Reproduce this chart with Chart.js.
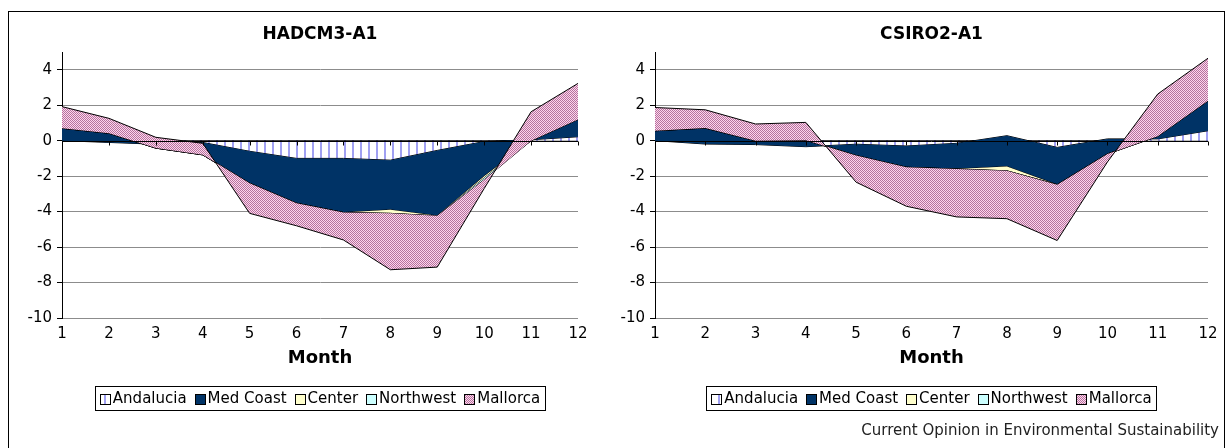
<!DOCTYPE html>
<html><head><meta charset="utf-8">
<script src="https://cdn.jsdelivr.net/npm/chart.js@4.4.1/dist/chart.umd.min.js"></script>
<style>
html,body{margin:0;padding:0;background:#fff;}
body{width:1227px;height:448px;position:relative;overflow:hidden;}
#frame{position:absolute;left:8px;top:11px;width:1217px;height:460px;border:1px solid #000;box-sizing:border-box;}
#c1{position:absolute;left:0;top:0;}
#c2{position:absolute;left:614px;top:0;}
#footer{position:absolute;right:8px;top:421px;font:15px "DejaVu Sans",sans-serif;color:#222;white-space:nowrap;}
</style></head>
<body>
<div id="frame"></div>
<canvas id="c1" width="614" height="448"></canvas>
<canvas id="c2" width="613" height="448"></canvas>
<div id="footer">Current Opinion in Environmental Sustainability</div>
<script>
// ---- data ----
const months = ['1','2','3','4','5','6','7','8','9','10','11','12'];
const seriesNames = ['Andalucia','Med Coast','Center','Northwest','Mallorca'];
const yTicks = [-10,-8,-6,-4,-2,0,2,4];

// HADCM3-A1 (individual regional values, stacked)
const hadAndalucia = [0.0,-0.1,-0.2,-0.1,-0.6,-1.0,-1.0,-1.1,-0.55,-0.05,0.05,0.22];
const hadMedCoast  = [0.7,0.52,-0.22,-0.7,-1.8,-2.53,-3.05,-2.8,-3.69,-1.95,-0.05,0.98];
const hadCenter    = [0,0,0,0,0,0,0,-0.2,0,-0.1,0,0];
const hadNorthwest = [0,0,0,0,0,0,0,0,0,-0.1,0,0];
const hadMallorca  = [1.22,0.84,0.61,0.65,-1.7,-1.27,-1.55,-3.18,-2.89,-0.5,1.63,2.03];

// CSIRO2-A1
const csiAndalucia = [0.0,-0.19,-0.22,-0.34,-0.2,-0.3,-0.15,0.28,-0.38,0.1,0.1,0.56];
const csiMedCoast  = [0.56,0.9,0.22,0.37,-0.64,-1.2,-1.45,-1.74,-2.1,-0.85,0.15,1.69];
const csiCenter    = [0,0,0,0,0,0,0,-0.24,0,0,0,0];
const csiNorthwest = [0,0,0,0,0,0,0,0,0,0,0,0];
const csiMallorca  = [1.31,1.03,0.94,1.0,-1.5,-2.2,-2.7,-2.7,-3.15,-0.45,2.38,2.4];

// ---- styles ----
const FONT = '"DejaVu Sans", sans-serif';
function tile(w,h,draw){const c=document.createElement('canvas');c.width=w;c.height=h;const x=c.getContext('2d');draw(x);return c;}
function makeFills(ctx){
  const stripe = ctx.createPattern(tile(8,8,x=>{x.fillStyle='#fff';x.fillRect(0,0,8,8);x.fillStyle='#a0a0f2';x.fillRect(0,0,2,8);}),'repeat');
  const checker = ctx.createPattern(tile(2,2,x=>{x.fillStyle='#ffd4ec';x.fillRect(0,0,2,2);x.fillStyle='#b4749e';x.fillRect(0,0,1,1);x.fillRect(1,1,1,1);}),'repeat');
  return [stripe,'#003366','#ffffcc','#ccffff',checker];
}

function cumulative(arrs){
  const out=[];let run=arrs[0].map(()=>0);
  arrs.forEach(a=>{run=run.map((v,k)=>v+a[k]);out.push(run.slice());});
  return out;
}

const overlay = {
  id:'overlay',
  afterDatasetsDraw(chart){
    const {ctx, chartArea:ca, scales:{x,y}} = chart;
    const y0 = Math.round(y.getPixelForValue(0))+0.5;
    ctx.save();
    ctx.strokeStyle='#000';ctx.lineWidth=1;
    ctx.beginPath();ctx.moveTo(ca.left,y0);ctx.lineTo(ca.right,y0);
    months.forEach((m,i)=>{const px=Math.round(x.getPixelForValue(i))+0.5;ctx.moveTo(px,y0);ctx.lineTo(px,y0+4);});
    ctx.stroke();ctx.restore();
  },
  afterDraw(chart,args,opts){
    const {ctx, chartArea:ca} = chart;
    const cx=(ca.left+ca.right)/2;
    ctx.save();
    ctx.fillStyle='#000';ctx.textAlign='center';ctx.textBaseline='middle';
    ctx.font='bold 17px '+FONT;ctx.fillText(opts.title,cx,35);
    ctx.font='bold 18px '+FONT;ctx.fillText('Month',cx,358);
    // legend
    ctx.font='15px '+FONT;
    const ds=chart.data.datasets;
    const mk=10,gap=3,itemGap=8,padX=5;
    const widths=ds.map(d=>mk+gap+ctx.measureText(d.label).width);
    const total=widths.reduce((a,b)=>a+b,0)+itemGap*(ds.length-1);
    const bx=Math.round(cx-total/2-padX)+0.5, by=386.5, bw=Math.round(total+2*padX), bh=24;
    ctx.strokeStyle='#000';ctx.lineWidth=1;ctx.strokeRect(bx,by,bw,bh);
    let xx=cx-total/2;const ym=by+bh/2;
    ctx.textAlign='left';
    ds.forEach((d,i)=>{
      const mx=Math.round(xx)+0.5,my=Math.round(ym-mk/2)+0.5;
      ctx.fillStyle=d.backgroundColor;ctx.fillRect(mx,my,mk,mk);
      ctx.strokeRect(mx,my,mk,mk);
      ctx.fillStyle='#000';ctx.fillText(d.label,xx+mk+gap,ym+1);
      xx+=widths[i]+itemGap;
    });
    ctx.restore();
  }
};

function makeChart(id,title,series,geom){
  const canvas=document.getElementById(id);
  const fills=makeFills(canvas.getContext('2d'));
  const cum=cumulative(series);
  return new Chart(canvas,{
    type:'line',
    data:{labels:months,datasets:seriesNames.map((n,i)=>({
      label:n,data:cum[i],fill:i===0?'origin':'-1',backgroundColor:fills[i],
      borderColor:'#000',borderWidth:1,pointRadius:0,tension:0,order:5-i
    }))},
    options:{
      responsive:false,animation:false,events:[],
      layout:{padding:{top:geom.top,right:geom.right,left:0,bottom:0}},
      plugins:{legend:{display:false},title:{display:false},tooltip:{enabled:false},overlay:{title}},
      scales:{
        x:{type:'category',offset:false,grid:{display:false,drawTicks:false},border:{display:false},
           ticks:{font:{family:FONT,size:15},color:'#000',padding:7,maxRotation:0,autoSkip:false},
           afterFit:s=>{s.height=geom.xh;}},
        y:{type:'linear',min:-10,max:5,
           afterBuildTicks:s=>{s.ticks=yTicks.map(v=>({value:v}));},
           grid:{color:c=>(c.tick&&c.tick.value===0)?'#000':'#8c8c8c',tickColor:'#000',tickLength:5,lineWidth:1},
           border:{color:'#000',width:1},
           ticks:{font:{family:FONT,size:15},color:'#000',padding:5},
           afterFit:s=>{s.width=geom.yw;}}
      }
    },
    plugins:[overlay]
  });
}

makeChart('c1','HADCM3-A1',[hadAndalucia,hadMedCoast,hadCenter,hadNorthwest,hadMallorca],{top:52,right:36,xh:130,yw:62});
makeChart('c2','CSIRO2-A1',[csiAndalucia,csiMedCoast,csiCenter,csiNorthwest,csiMallorca],{top:52,right:19,xh:130,yw:41});
</script>
</body></html>
